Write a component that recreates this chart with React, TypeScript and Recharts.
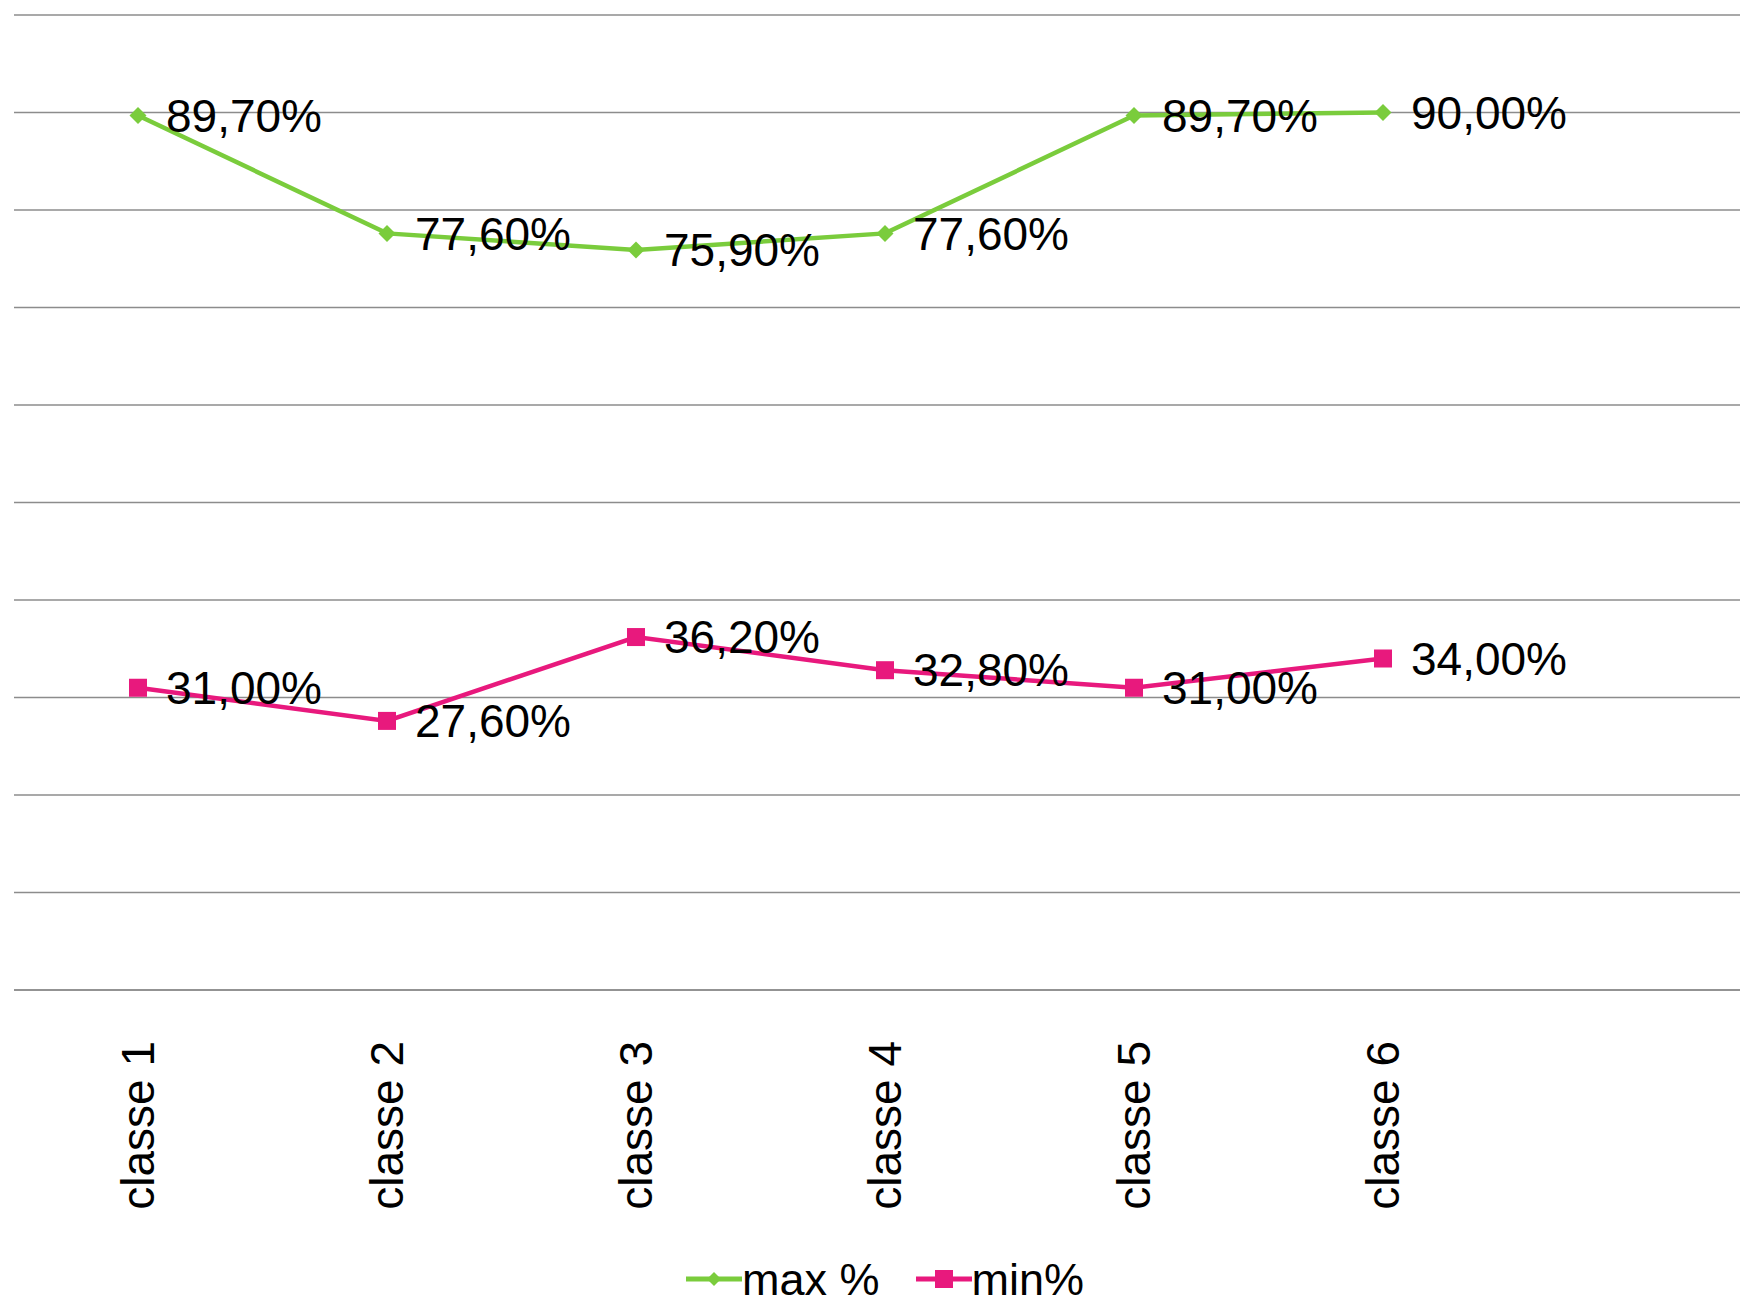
import { LineChart, Line, XAxis, YAxis, CartesianGrid, Legend, LabelList } from 'recharts';

const categories = ['classe 1', 'classe 2', 'classe 3', 'classe 4', 'classe 5', 'classe 6', ''];
const maxValues: Array<number | null> = [89.7, 77.6, 75.9, 77.6, 89.7, 90.0, null];
const minValues: Array<number | null> = [31.0, 27.6, 36.2, 32.8, 31.0, 34.0, null];
const yTicks = [0, 10, 20, 30, 40, 50, 60, 70, 80, 90, 100];

const GREEN = '#7acc3c';
const PINK = '#e8197d';
const FONT = '"Liberation Sans", Arial, sans-serif';

const data = categories.map((name, i) => ({ name, max: maxValues[i], min: minValues[i] }));

const fmt = (v: number) => v.toFixed(2).replace('.', ',') + '%';

const Diamond = (props: any) => {
  const { cx, cy } = props;
  if (cx == null || cy == null || props.value == null) return null;
  const r = 8.5;
  return <path d={`M${cx},${cy - r} L${cx + r},${cy} L${cx},${cy + r} L${cx - r},${cy} Z`} fill={GREEN} />;
};

const Square = (props: any) => {
  const { cx, cy } = props;
  if (cx == null || cy == null || props.value == null) return null;
  return <rect x={cx - 9} y={cy - 9} width={18} height={18} fill={PINK} />;
};

const ValueLabel = (props: any) => {
  const { x, y, value } = props;
  if (value == null) return null;
  return (
    <text x={x + 28} y={y} dy="0.35em" fontSize={46} fontFamily={FONT} fill="#000" textAnchor="start">
      {fmt(value)}
    </text>
  );
};

const CategoryTick = (props: any) => {
  const { x, y, payload } = props;
  if (!payload.value) return null;
  return (
    <text
      x={x}
      y={y + 43}
      dy="0.35em"
      fontSize={46}
      fontFamily={FONT}
      fill="#000"
      textAnchor="end"
      transform={`rotate(-90, ${x}, ${y + 43})`}
    >
      {payload.value}
    </text>
  );
};

const LegendContent = () => (
  <div
    style={{
      display: 'flex',
      justifyContent: 'center',
      alignItems: 'center',
      height: 48,
      marginTop: 12,
      fontFamily: FONT,
      fontSize: 45,
      lineHeight: 1,
    }}
  >
    <svg width={56} height={20}>
      <line x1={0} y1={10} x2={56} y2={10} stroke={GREEN} strokeWidth={5} />
      <path d="M28,3 L35,10 L28,17 L21,10 Z" fill={GREEN} />
    </svg>
    <span style={{ marginRight: 36 }}>max %</span>
    <svg width={56} height={20}>
      <line x1={0} y1={10} x2={56} y2={10} stroke={PINK} strokeWidth={5} />
      <rect x={19} y={1} width={18} height={18} fill={PINK} />
    </svg>
    <span>min%</span>
  </div>
);

export default function App() {
  return (
    <div style={{ position: 'absolute', left: 0, top: 0, width: 1740, height: 1303, overflow: 'hidden', background: '#fff' }}>
      <LineChart width={1770} height={1303} data={data} margin={{ top: 15, right: 14, left: 14, bottom: 0 }}>
        <CartesianGrid vertical={false} stroke="#8c8c8c" strokeWidth={1.5} />
        <YAxis hide domain={[0, 100]} ticks={yTicks} />
        <XAxis
          dataKey="name"
          height={253}
          interval={0}
          padding={{ left: 124, right: 124 }}
          axisLine={{ stroke: '#8c8c8c', strokeWidth: 1.5 }}
          tickLine={false}
          tick={<CategoryTick />}
        />
        <Legend verticalAlign="bottom" height={60} content={<LegendContent />} />
        <Line dataKey="max" stroke={GREEN} strokeWidth={4.5} dot={<Diamond />} activeDot={false} isAnimationActive={false}>
          <LabelList dataKey="max" content={<ValueLabel />} />
        </Line>
        <Line dataKey="min" stroke={PINK} strokeWidth={4.5} dot={<Square />} activeDot={false} isAnimationActive={false}>
          <LabelList dataKey="min" content={<ValueLabel />} />
        </Line>
      </LineChart>
    </div>
  );
}
